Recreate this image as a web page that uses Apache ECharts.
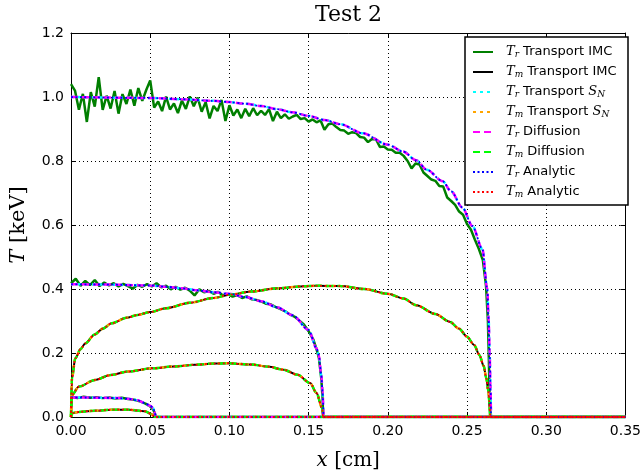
<!DOCTYPE html>
<html><head><meta charset="utf-8">
<script src="https://cdn.jsdelivr.net/npm/echarts@6/dist/echarts.min.js"></script>
<style>html,body{margin:0;padding:0;background:#fff}#c{width:644px;height:476px}</style>
</head><body><div id="c"></div>
<script>
// ---------- DATA ----------
// Time 1 (front near x = 0.053)
const trX1 = [0,0.01,0.02,0.03,0.036,0.042,0.0466,0.05,0.0519,0.053,0.0535,0.35];
const trY1 = [0.061,0.061,0.060,0.059,0.057,0.052,0.0435,0.035,0.028,0.012,0,0];
const tmX1 = [0,0.0006,0.005,0.0152,0.0257,0.036,0.0466,0.0508,0.052,0.0528,0.35];
const tmY1 = [0,0.012,0.016,0.0196,0.023,0.023,0.018,0.009,0.004,0,0];
// Time 2 (front near x = 0.16)
const trX2 = [0,0.02,0.05,0.06,0.07,0.08,0.09,0.10,0.11,0.12,0.13,0.14,0.15,0.155,0.1564,0.158,0.1588,0.1595,0.35];
const trY2 = [0.415,0.414,0.411,0.407,0.402,0.396,0.390,0.385,0.375,0.362,0.343,0.318,0.272,0.215,0.194,0.13,0.08,0,0];
const tmX2 = [0,0.0006,0.005,0.0152,0.025,0.036,0.0508,0.065,0.078,0.09,0.099,0.1136,0.125,0.134,0.143,0.151,0.155,0.1585,0.1592,0.35];
const tmY2 = [0,0.069,0.095,0.116,0.131,0.142,0.152,0.158,0.163,0.167,0.168,0.164,0.157,0.148,0.132,0.106,0.075,0.028,0,0];
// Time 3 (front near x = 0.265)
const trX3 = [0,0.05,0.07,0.09,0.10,0.11,0.12,0.13,0.14,0.15,0.16,0.17,0.184,0.20,0.2095,0.218,0.2245,0.2346,0.24,0.247,0.2534,0.2597,0.2628,0.2637,0.2643,0.2648,0.2652,0.35];
const trY3 = [1.0,0.997,0.993,0.988,0.984,0.979,0.972,0.962,0.952,0.941,0.928,0.915,0.887,0.851,0.830,0.802,0.773,0.737,0.705,0.655,0.597,0.525,0.40,0.30,0.20,0.10,0,0];
const tmX3 = [0,0.0006,0.0027,0.006,0.009,0.015,0.02,0.0257,0.035,0.042,0.05,0.06,0.075,0.09,0.10,0.1136,0.13,0.145,0.155,0.17,0.185,0.20,0.21,0.218,0.23,0.239,0.245,0.25,0.2545,0.2578,0.2605,0.2622,0.2635,0.264,0.2648,0.35];
const tmY3 = [0,0.121,0.183,0.212,0.23,0.258,0.276,0.293,0.310,0.319,0.328,0.340,0.357,0.372,0.382,0.392,0.402,0.408,0.410,0.409,0.400,0.385,0.370,0.349,0.322,0.298,0.276,0.251,0.225,0.194,0.160,0.121,0.08,0.05,0,0];

// Noisy IMC radiation temperature
const imcX1 = [0,0.004,0.008,0.012,0.016,0.020,0.024,0.028,0.032,0.036,0.040,0.044,0.047,0.050,0.052,0.0532,0.0536,0.35];
const imcY1 = [0.064,0.059,0.063,0.060,0.062,0.059,0.061,0.058,0.060,0.056,0.054,0.048,0.042,0.033,0.022,0.008,0,0];
const imcX2 = [0,0.003,0.006,0.009,0.012,0.015,0.018,0.021,0.024,0.027,0.030,0.033,0.036,0.039,0.042,0.045,0.048,0.051,0.054,0.057,0.060,0.063,0.066,0.069,0.072,0.075,0.078,0.081,0.084,0.087,0.090,0.093,0.096,0.099,0.102,0.105,0.108,0.111,0.114,0.117,0.120,0.123,0.126,0.129,0.132,0.135,0.138,0.141,0.144,0.147,0.150,0.153,0.155,0.1565,0.158,0.1588,0.1592,0.35];
const imcY2 = [0.418,0.432,0.410,0.425,0.412,0.428,0.409,0.420,0.411,0.418,0.408,0.416,0.409,0.401,0.413,0.407,0.415,0.408,0.418,0.405,0.410,0.399,0.407,0.398,0.404,0.395,0.380,0.399,0.390,0.394,0.385,0.391,0.380,0.384,0.376,0.381,0.372,0.377,0.368,0.366,0.361,0.354,0.352,0.344,0.338,0.331,0.321,0.314,0.302,0.289,0.268,0.242,0.212,0.185,0.12,0.06,0,0];
const imcX3 = [0,0.0025,0.005,0.0075,0.01,0.0125,0.015,0.0175,0.02,0.0225,0.025,0.0275,0.03,0.0325,0.035,0.0375,0.04,0.0425,0.045,0.0475,0.05,0.0525,0.055,0.0575,0.06,0.0625,0.065,0.0675,0.07,0.0725,0.075,0.0775,0.08,0.0825,0.085,0.0875,0.09,0.0925,0.095,0.0975,0.1,0.1025,0.105,0.1075,0.11,0.1125,0.115,0.1175,0.12,0.1225,0.125,0.1275,0.13,0.1325,0.135,0.1375,0.14,0.1425,0.145,0.1475,0.15,0.1525,0.155,0.1575,0.16,0.1625,0.165,0.1675,0.17,0.1725,0.175,0.1775,0.18,0.1825,0.185,0.1875,0.19,0.1925,0.195,0.1975,0.2,0.2025,0.205,0.2075,0.21,0.2125,0.215,0.2175,0.22,0.2225,0.225,0.2275,0.23,0.2325,0.235,0.2375,0.24,0.2425,0.245,0.2475,0.25,0.2525,0.255,0.2575,0.26,0.262,0.2632,0.2638,0.2643,0.2646,0.35];
const imcY3 = [1.040,1.020,0.960,1.010,0.922,1.015,0.970,1.062,0.960,1.004,0.964,1.019,0.948,1.009,0.978,1.023,0.973,1.028,0.988,1.022,1.052,0.967,0.986,0.956,1.001,0.961,0.980,0.950,0.989,0.963,1.002,0.971,0.998,0.954,0.984,0.933,0.972,0.956,0.991,0.925,0.974,0.942,0.961,0.934,0.963,0.940,0.965,0.943,0.957,0.944,0.962,0.925,0.954,0.934,0.946,0.932,0.939,0.944,0.931,0.934,0.923,0.930,0.921,0.927,0.898,0.915,0.917,0.906,0.897,0.895,0.885,0.890,0.887,0.875,0.873,0.859,0.869,0.868,0.844,0.845,0.836,0.835,0.826,0.826,0.816,0.800,0.777,0.792,0.789,0.764,0.753,0.742,0.738,0.722,0.720,0.686,0.675,0.663,0.642,0.632,0.603,0.585,0.554,0.525,0.490,0.41,0.30,0.18,0.05,0,0];

const legendNames = ['Tr Transport IMC','Tm Transport IMC','Tr Transport SN','Tm Transport SN','Tr Diffusion','Tm Diffusion','Tr Analytic','Tm Analytic'];
const legendLabels = {
  'Tr Transport IMC':'{t|T}{s|r} Transport IMC',
  'Tm Transport IMC':'{t|T}{s|m} Transport IMC',
  'Tr Transport SN':'{t|T}{s|r} Transport {u|S}{s|N}',
  'Tm Transport SN':'{t|T}{s|m} Transport {u|S}{s|N}',
  'Tr Diffusion':'{t|T}{s|r} Diffusion',
  'Tm Diffusion':'{t|T}{s|m} Diffusion',
  'Tr Analytic':'{t|T}{s|r} Analytic',
  'Tm Analytic':'{t|T}{s|m} Analytic'
};

// ---------- BUILD ----------
function zip(xs, ys){ return xs.map((x,i)=>[x, ys[i]]); }
const trSets = [[trX1,trY1],[trX2,trY2],[trX3,trY3]];
const tmSets = [[tmX1,tmY1],[tmX2,tmY2],[tmX3,tmY3]];
const imcSets = [[imcX1,imcY1],[imcX2,imcY2],[imcX3,imcY3]];
const styles = [
  {color:'#007f00', width:2.5, type:'solid', sets:imcSets, smooth:false},
  {color:'#000000', width:2, type:'solid', sets:tmSets, smooth:true},
  {color:'#00ffff', width:2.5, type:[3,4], sets:trSets, smooth:true},
  {color:'#ffa500', width:2.5, type:[3,4], sets:tmSets, smooth:true},
  {color:'#ff00ff', width:2.5, type:[7,4], sets:trSets, smooth:true},
  {color:'#00ff00', width:2.5, type:[7,4], sets:tmSets, smooth:true},
  {color:'#0000ff', width:1.8, type:[2,2.5], sets:trSets, smooth:true},
  {color:'#ff0000', width:1.8, type:[2,2.5], sets:tmSets, smooth:true}
];
const series = [];
styles.forEach((st, k) => {
  st.sets.forEach(([xs, ys]) => {
    series.push({
      name: legendNames[k], type:'line', data: zip(xs, ys),
      showSymbol:false, symbol:'none', symbolSize:0, animation:false, clip:true,
      smooth: st.smooth ? 0.3 : false, smoothMonotone:'x',
      color: st.color,
      itemStyle:{color:st.color},
      lineStyle:{color:st.color, width:st.width, type:st.type}
    });
  });
});

const chart = echarts.init(document.getElementById('c'), null, {renderer:'canvas'});
const tickCommon = {inside:true, length:5, lineStyle:{color:'#000', width:1}};
chart.setOption({
  backgroundColor:'#fff',
  animation:false,
  grid:{left:69, right:16, top:33, bottom:57, show:false},
  xAxis:[{
    type:'value', min:0, max:0.35, interval:0.05,
    axisLine:{show:true, onZero:false, lineStyle:{color:'#000', width:1}},
    axisTick:tickCommon,
    axisLabel:{color:'#000', fontFamily:'DejaVu Sans', fontSize:14, margin:7, formatter:v=>v.toFixed(2)},
    splitLine:{show:true, lineStyle:{color:'#000', type:[1,3], width:1}},
    name:'{i|x} [cm]', nameLocation:'middle', nameGap:34,
    nameTextStyle:{color:'#000', fontFamily:'DejaVu Serif', fontSize:20,
      rich:{i:{fontFamily:'DejaVu Serif', fontStyle:'italic', fontSize:20, color:'#000'}}}
  },{
    type:'value', position:'top', min:0, max:0.35, interval:0.05,
    axisLine:{show:true, onZero:false, lineStyle:{color:'#000', width:1}},
    axisTick:tickCommon, axisLabel:{show:false}, splitLine:{show:false}
  }],
  yAxis:[{
    type:'value', min:0, max:1.2, interval:0.2,
    axisLine:{show:true, onZero:false, lineStyle:{color:'#000', width:1}},
    axisTick:tickCommon,
    axisLabel:{color:'#000', fontFamily:'DejaVu Sans', fontSize:14, margin:7, formatter:v=>v.toFixed(1)},
    splitLine:{show:true, lineStyle:{color:'#000', type:[1,3], width:1}},
    name:'{i|T} [keV]', nameLocation:'middle', nameGap:42,
    nameTextStyle:{color:'#000', fontFamily:'DejaVu Serif', fontSize:21,
      rich:{i:{fontFamily:'DejaVu Serif', fontStyle:'italic', fontSize:21, color:'#000'}}}
  },{
    type:'value', position:'right', min:0, max:1.2, interval:0.2,
    axisLine:{show:true, onZero:false, lineStyle:{color:'#000', width:1}},
    axisTick:tickCommon, axisLabel:{show:false}, splitLine:{show:false}
  }],
  legend:{
    data:legendNames, orient:'vertical', left:467, top:40, padding:5,
    itemWidth:20, itemHeight:14, itemGap:6, selectedMode:false, z:20,
    itemStyle:{opacity:0, borderWidth:0},
    formatter:n=>legendLabels[n],
    textStyle:{color:'#000', fontFamily:'DejaVu Sans', fontSize:13, lineHeight:14,
      rich:{
        t:{fontFamily:'DejaVu Serif', fontStyle:'italic', fontSize:13, color:'#000', padding:[0,0,0,8], lineHeight:14},
        u:{fontFamily:'DejaVu Serif', fontStyle:'italic', fontSize:13, color:'#000', lineHeight:14},
        s:{fontFamily:'DejaVu Serif', fontStyle:'italic', fontSize:9, color:'#000', verticalAlign:'bottom', lineHeight:9}
      }}
  },
  graphic:[
    {type:'rect', z:10, shape:{x:465, y:37, width:163, height:168}, style:{fill:'#fff', stroke:'#000', lineWidth:1.5}},
    {type:'text', z:10, style:{x:348.5, y:15, text:'Test 2', textAlign:'center', textVerticalAlign:'middle', fontFamily:'DejaVu Serif', fontSize:22, fill:'#000'}}
  ],
  series:series
});
</script></body></html>
